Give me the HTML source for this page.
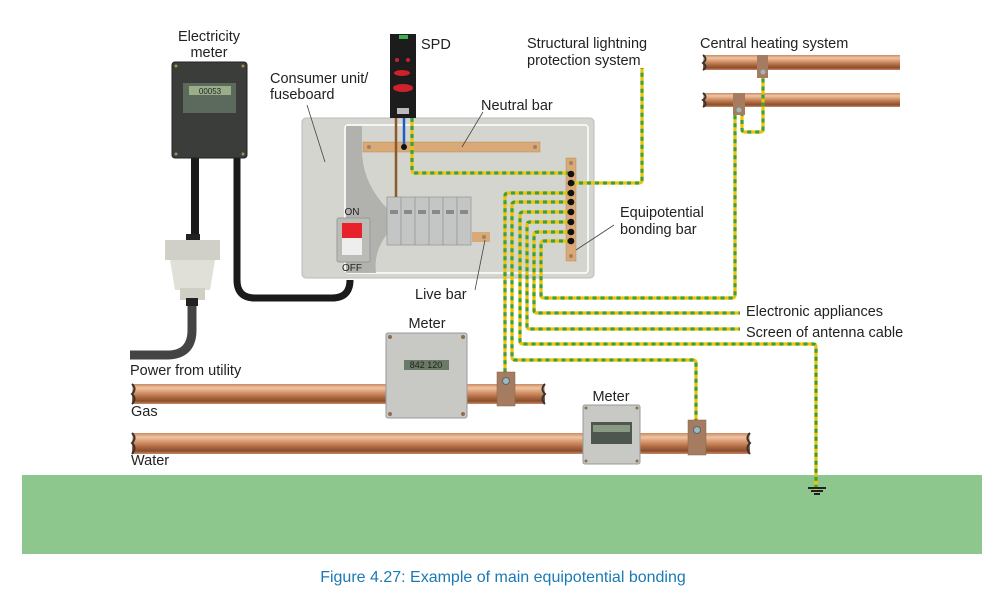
<!DOCTYPE html>
<html><head><meta charset="utf-8"><style>
html,body{margin:0;padding:0;background:#fff}
svg{display:block}
text{font-family:"Liberation Sans",sans-serif;fill:#222}
</style></head><body>
<svg width="1000" height="594" viewBox="0 0 1000 594" xmlns="http://www.w3.org/2000/svg">
<defs>
<linearGradient id="cu" x1="0" y1="0" x2="0" y2="1">
<stop offset="0" stop-color="#c98b63"/><stop offset="0.2" stop-color="#f0c4a4"/><stop offset="0.4" stop-color="#d99a70"/><stop offset="0.65" stop-color="#b06a42"/><stop offset="0.85" stop-color="#8a4e2e"/><stop offset="1" stop-color="#c98b63"/>
</linearGradient>
</defs>
<rect x="22" y="475" width="960" height="79" fill="#8dc78e"/>
<text x="503" y="582" font-size="16" style="fill:#1a7ab5" text-anchor="middle">Figure 4.27: Example of main equipotential bonding</text>

<rect x="132" y="384" width="413" height="20" fill="url(#cu)"/>
<rect x="132" y="433" width="618" height="21" fill="url(#cu)"/>
<rect x="703" y="55" width="197" height="15" fill="url(#cu)"/>
<rect x="703" y="93" width="197" height="14" fill="url(#cu)"/>
<path d="M132 384 q5 5 0 10 q5 5 0 10" stroke="#333" stroke-width="2" fill="none"/>
<path d="M545 384 q-5 5 0 10 q-5 5 0 10" stroke="#333" stroke-width="2" fill="none"/>
<path d="M132 433 q5 5 0 10 q5 5 0 11" stroke="#333" stroke-width="2" fill="none"/>
<path d="M750 433 q-5 5 0 10 q-5 5 0 11" stroke="#333" stroke-width="2" fill="none"/>
<path d="M703 55 q5 4 0 8 q5 4 0 7" stroke="#333" stroke-width="2" fill="none"/>
<path d="M703 93 q5 4 0 7 q5 4 0 7" stroke="#333" stroke-width="2" fill="none"/>

<path d="M237 150 V280 q0 18 18 18 H332 q18 0 18 -18 V280" stroke="#1a1a1a" stroke-width="7" fill="none"/>
<rect x="191" y="150" width="8" height="90" fill="#1a1a1a"/>
<path d="M192 300 V330 q0 25 -25 25 H130" stroke="#444" stroke-width="9" fill="none"/>
<rect x="172" y="62" width="75" height="96" rx="3" fill="#3a3d3a" stroke="#222"/>
<circle cx="176" cy="66" r="1.5" fill="#b08a50"/><circle cx="243" cy="66" r="1.5" fill="#b08a50"/>
<circle cx="176" cy="154" r="1.5" fill="#b08a50"/><circle cx="243" cy="154" r="1.5" fill="#b08a50"/>
<rect x="183" y="83" width="53" height="30" fill="#5c6a5e"/>
<rect x="189" y="86" width="42" height="9" fill="#9aae8a"/>
<text x="210" y="94" font-size="8" text-anchor="middle" fill="#333">00053</text>
<rect x="186" y="234" width="14" height="8" fill="#222"/>
<rect x="165" y="240" width="55" height="20" fill="#d0d0c8"/>
<path d="M170 260 H215 L210 290 H175 Z" fill="#e0e0d8"/>
<rect x="180" y="288" width="25" height="12" fill="#cfcfc6"/>
<rect x="186" y="298" width="12" height="8" fill="#222"/>
<text x="209" y="41" font-size="14.5" text-anchor="middle">Electricity</text>
<text x="209" y="57" font-size="14.5" text-anchor="middle">meter</text>

<rect x="302" y="118" width="292" height="160" rx="4" fill="#d5d5cf" stroke="#bbb"/>
<rect x="345" y="125" width="243" height="148" rx="3" fill="none" stroke="#fff" stroke-width="1.5"/>
<path d="M346 126 H362 V150 Q362 190 400 220 Q372 245 376 273 H346 Z" fill="#a8a8a4" opacity="0.8"/>
<rect x="363" y="142" width="177" height="10" fill="#d9a978" stroke="#b88a5a" stroke-width="0.5"/>
<circle cx="369" cy="147" r="2" fill="#a08060"/><circle cx="535" cy="147" r="2" fill="#a08060"/>
<g fill="#c4c6c6" stroke="#999" stroke-width="0.8">
<rect x="387" y="197" width="14" height="48"/><rect x="401" y="197" width="14" height="48"/><rect x="415" y="197" width="14" height="48"/><rect x="429" y="197" width="14" height="48"/><rect x="443" y="197" width="14" height="48"/><rect x="457" y="197" width="14" height="48"/>
</g>
<g fill="#888"><rect x="390" y="210" width="8" height="4"/><rect x="404" y="210" width="8" height="4"/><rect x="418" y="210" width="8" height="4"/><rect x="432" y="210" width="8" height="4"/><rect x="446" y="210" width="8" height="4"/><rect x="460" y="210" width="8" height="4"/></g>
<rect x="472" y="232" width="18" height="10" fill="#d9a978"/>
<circle cx="484" cy="237" r="2" fill="#a08060"/>
<rect x="337" y="218" width="33" height="44" rx="2" fill="#bcbcb6" stroke="#999"/>
<rect x="342" y="223" width="20" height="15" fill="#e8222a"/>
<rect x="342" y="238" width="20" height="17" fill="#eee"/>
<text x="352" y="215" font-size="10" text-anchor="middle">ON</text>
<text x="352" y="271" font-size="10" text-anchor="middle">OFF</text>
<line x1="396" y1="117" x2="396" y2="197" stroke="#8b5a2b" stroke-width="2.5"/>
<line x1="404" y1="117" x2="404" y2="147" stroke="#1a5fc0" stroke-width="2.5"/>
<circle cx="404" cy="147" r="3" fill="#111"/>
<rect x="390" y="34" width="26" height="84" fill="#1c1c1c"/>
<rect x="399" y="35" width="9" height="4" fill="#3cb04a"/>
<ellipse cx="402" cy="73" rx="8" ry="3" fill="#d0202a"/>
<ellipse cx="403" cy="88" rx="10" ry="4" fill="#d0202a"/>
<circle cx="397" cy="60" r="2" fill="#d0202a"/><circle cx="408" cy="60" r="2" fill="#d0202a"/>
<rect x="397" y="108" width="12" height="6" fill="#bbb"/>
<text x="421" y="49" font-size="14.5">SPD</text>

<rect x="566" y="158" width="10" height="103" fill="#d9a978" stroke="#b88a5a" stroke-width="0.5"/>
<circle cx="571" cy="163" r="2" fill="#a08060"/><circle cx="571" cy="256" r="2" fill="#a08060"/>

<g fill="none" stroke-width="3.2" stroke-linejoin="round">
<g stroke="#f2c200">
<path d="M412 118 V170 q0 3 3 3 H571"/>
<path d="M571 183 H639 q3 0 3 -3 V68"/>
<path d="M571 193 H508 q-3 0 -3 3 V372"/>
<path d="M571 202 H515 q-3 0 -3 3 V357 q0 3 3 3 H693 q3 0 3 3 V420"/>
<path d="M571 212 H523 q-3 0 -3 3 V341 q0 3 3 3 H813 q3 0 3 3 V490"/>
<path d="M571 222 H530 q-3 0 -3 3 V326 q0 3 3 3 H740"/>
<path d="M571 232 H537 q-3 0 -3 3 V310 q0 3 3 3 H740"/>
<path d="M571 241 H544 q-3 0 -3 3 V295 q0 3 3 3 H732 q3 0 3 -3 V112"/>
<path d="M742 112 V129 q0 3 3 3 H760 q3 0 3 -3 V76"/>
</g>
<g stroke="#3aa040" stroke-dasharray="4 4">
<path d="M412 118 V170 q0 3 3 3 H571"/>
<path d="M571 183 H639 q3 0 3 -3 V68"/>
<path d="M571 193 H508 q-3 0 -3 3 V372"/>
<path d="M571 202 H515 q-3 0 -3 3 V357 q0 3 3 3 H693 q3 0 3 3 V420"/>
<path d="M571 212 H523 q-3 0 -3 3 V341 q0 3 3 3 H813 q3 0 3 3 V490"/>
<path d="M571 222 H530 q-3 0 -3 3 V326 q0 3 3 3 H740"/>
<path d="M571 232 H537 q-3 0 -3 3 V310 q0 3 3 3 H740"/>
<path d="M571 241 H544 q-3 0 -3 3 V295 q0 3 3 3 H732 q3 0 3 -3 V112"/>
<path d="M742 112 V129 q0 3 3 3 H760 q3 0 3 -3 V76"/>
</g>
</g>
<g fill="#111">
<circle cx="571" cy="174" r="3.3"/><circle cx="571" cy="183" r="3.3"/><circle cx="571" cy="193" r="3.3"/><circle cx="571" cy="202" r="3.3"/><circle cx="571" cy="212" r="3.3"/><circle cx="571" cy="222" r="3.3"/><circle cx="571" cy="232" r="3.3"/><circle cx="571" cy="241" r="3.3"/>
</g>
<g stroke="#222" stroke-width="2"><line x1="808" y1="488" x2="826" y2="488"/><line x1="811" y1="491" x2="823" y2="491"/><line x1="814" y1="494" x2="820" y2="494"/></g>

<rect x="497" y="372" width="18" height="34" fill="#a57c60" stroke="#806048" stroke-width="0.5"/>
<circle cx="506" cy="381" r="3.5" fill="#9fb8bd" stroke="#567"/>
<rect x="688" y="420" width="18" height="35" fill="#a57c60" stroke="#806048" stroke-width="0.5"/>
<circle cx="697" cy="430" r="3.5" fill="#9fb8bd" stroke="#567"/>
<rect x="757" y="55" width="11" height="23" fill="#a57c60"/>
<circle cx="763" cy="72" r="2.5" fill="#9fb8bd"/>
<rect x="733" y="93" width="12" height="22" fill="#a57c60"/>
<circle cx="739" cy="110" r="2.5" fill="#9fb8bd"/>

<rect x="386" y="333" width="81" height="85" rx="2" fill="#c8c9c5" stroke="#999"/>
<circle cx="390" cy="337" r="2" fill="#8a7050"/><circle cx="463" cy="337" r="2" fill="#8a7050"/><circle cx="390" cy="414" r="2" fill="#8a7050"/><circle cx="463" cy="414" r="2" fill="#8a7050"/>
<rect x="404" y="360" width="45" height="10" fill="#6b7a66"/>
<text x="426" y="368" font-size="9" text-anchor="middle">842 120</text>
<text x="427" y="328" font-size="14.5" text-anchor="middle">Meter</text>
<rect x="583" y="405" width="57" height="59" rx="2" fill="#c8c9c5" stroke="#999"/>
<circle cx="586" cy="408" r="1.5" fill="#8a7050"/><circle cx="637" cy="408" r="1.5" fill="#8a7050"/><circle cx="586" cy="461" r="1.5" fill="#8a7050"/><circle cx="637" cy="461" r="1.5" fill="#8a7050"/>
<rect x="591" y="422" width="41" height="22" fill="#4d5750"/>
<rect x="593" y="425" width="37" height="7" fill="#8a9a82"/>
<text x="611" y="401" font-size="14.5" text-anchor="middle">Meter</text>

<g stroke="#444" stroke-width="0.8"><line x1="307" y1="105" x2="325" y2="162"/><line x1="462" y1="147" x2="483" y2="112"/><line x1="475" y1="290" x2="485" y2="240"/><line x1="576" y1="250" x2="614" y2="225"/></g>

<g font-size="14.5">
<text x="270" y="83">Consumer unit/</text>
<text x="270" y="99">fuseboard</text>
<text x="481" y="110">Neutral bar</text>
<text x="527" y="48">Structural lightning</text>
<text x="527" y="65">protection system</text>
<text x="700" y="48">Central heating system</text>
<text x="620" y="217">Equipotential</text>
<text x="620" y="234">bonding bar</text>
<text x="415" y="299">Live bar</text>
<text x="746" y="316">Electronic appliances</text>
<text x="746" y="337">Screen of antenna cable</text>
<text x="130" y="375">Power from utility</text>
<text x="131" y="416">Gas</text>
<text x="131" y="465">Water</text>
</g>
</svg>
</body></html>
